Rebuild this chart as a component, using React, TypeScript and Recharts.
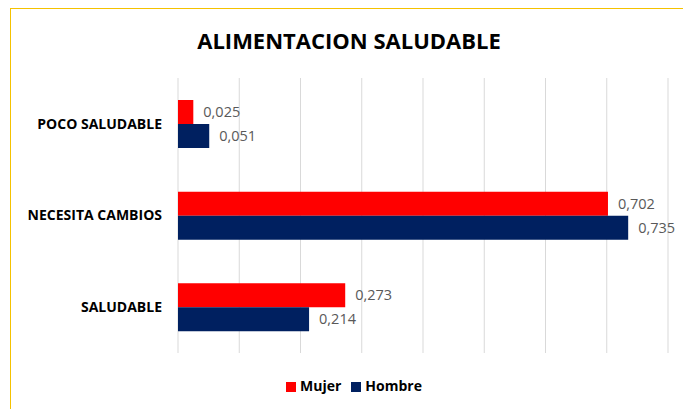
import React from 'react';
import { BarChart, Bar, XAxis, YAxis, CartesianGrid, Legend, LabelList } from 'recharts';

const categories = ['POCO SALUDABLE', 'NECESITA CAMBIOS', 'SALUDABLE'];
const mujer = [0.025, 0.702, 0.273];
const hombre = [0.051, 0.735, 0.214];
const xTicks = [0, 0.1, 0.2, 0.3, 0.4, 0.5, 0.6, 0.7, 0.8];
const seriesOrder = ['Mujer', 'Hombre'];

const data = categories.map((name, i) => ({ name, Mujer: mujer[i], Hombre: hombre[i] }));

const fmt = (v: any) => Number(v).toFixed(3).replace('.', ',');

const App = () => {
  return (
    <div style={{ position: 'fixed', left: 0, top: 0, width: 683, height: 409, overflow: 'hidden', background: '#fff', fontFamily: '"Open Sans", sans-serif' }}>
      <div style={{ position: 'absolute', left: 10, top: 8, width: 700, height: 420, border: '1px solid #f5c200', boxSizing: 'border-box' }} />
      <div style={{ position: 'absolute', left: 0, top: 25, width: 698, textAlign: 'center', fontSize: 22, fontWeight: 700, color: '#000' }}>
        ALIMENTACION SALUDABLE
      </div>
      <div style={{ position: 'absolute', left: 0, top: 0 }}>
        <BarChart
          width={683}
          height={409}
          data={data}
          layout="vertical"
          margin={{ top: 78, right: 15, left: 10, bottom: 34 }}
          barCategoryGap="24%"
          barGap={0}
        >
          <CartesianGrid horizontal={false} stroke="#d9d9d9" />
          <XAxis type="number" domain={[0, 0.8]} ticks={xTicks} hide />
          <YAxis
            type="category"
            dataKey="name"
            width={168}
            axisLine={false}
            tickLine={false}
            tickMargin={10}
            tick={{ fill: '#000', fontSize: 14, fontWeight: 700 }}
          />
          <Legend
            verticalAlign="bottom"
            iconType="square"
            iconSize={10}
            itemSorter={(item: any) => seriesOrder.indexOf(item.value)}
            wrapperStyle={{ top: 374, left: 30 }}
            formatter={(value: string) => (
              <span style={{ color: '#000', fontWeight: 700, fontSize: 14 }}>{value}</span>
            )}
          />
          <Bar dataKey="Mujer" fill="#ff0000" isAnimationActive={false}>
            <LabelList dataKey="Mujer" position="right" offset={10} formatter={fmt} fill="#595959" fontSize={14.5} />
          </Bar>
          <Bar dataKey="Hombre" fill="#002060" isAnimationActive={false}>
            <LabelList dataKey="Hombre" position="right" offset={10} formatter={fmt} fill="#595959" fontSize={14.5} />
          </Bar>
        </BarChart>
      </div>
    </div>
  );
};

export default App;
